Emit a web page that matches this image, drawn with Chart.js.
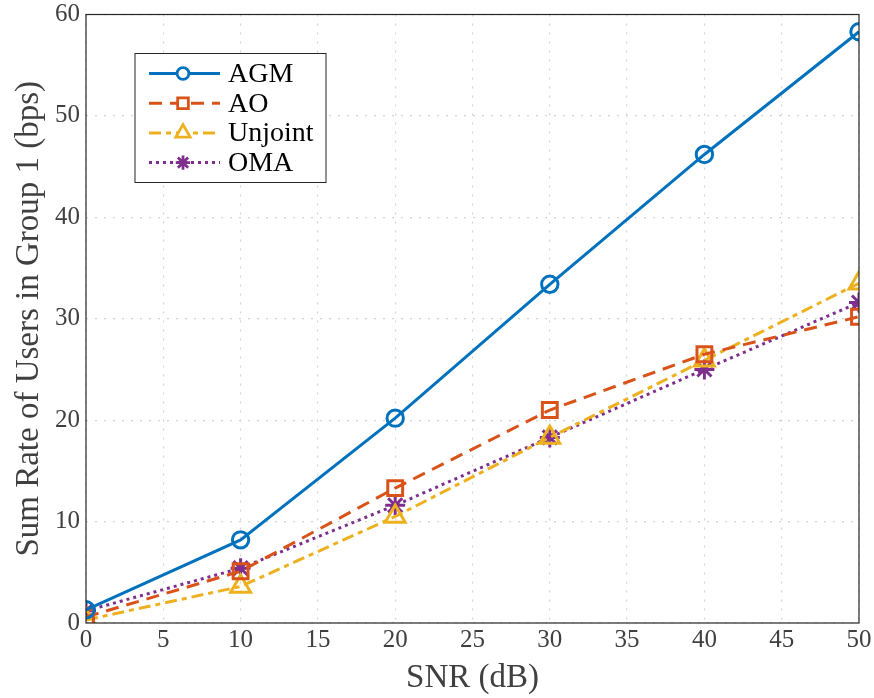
<!DOCTYPE html>
<html><head><meta charset="utf-8">
<script src="https://cdn.jsdelivr.net/npm/chart.js@4.4.1/dist/chart.umd.min.js"></script>
<style>html,body{margin:0;padding:0;background:#fff}#wrap{width:874px;height:698px}</style>
</head><body><div id="wrap"><canvas id="c" width="874" height="698"></canvas></div>
<script>
const snr = [0, 10, 20, 30, 40, 50];
const agm = [1.3, 8.2, 20.2, 33.4, 46.2, 58.3];
const ao = [0.6, 5.1, 13.3, 21.0, 26.5, 30.2];
const unjoint = [0.3, 3.6, 10.5, 18.3, 25.9, 33.5];
const oma = [1.2, 5.4, 11.6, 18.3, 25.0, 31.6];
const seriesNames = ['AGM', 'AO', 'Unjoint', 'OMA'];
const xTitle = 'SNR (dB)';
const yTitle = 'Sum Rate of Users in Group 1 (bps)';

const FONT = "'Liberation Serif', 'Times New Roman', serif";
const AX = '#262626';
const TXT = '#404040';

function ds(label, vals, color, dash, style, r) {
  return {
    label, data: snr.map((x, i) => ({x, y: vals[i]})),
    borderColor: color, backgroundColor: style === 'star' ? color : 'rgba(255,255,255,0)',
    borderWidth: 3, borderDash: dash, pointStyle: style, pointRadius: r,
    pointBorderWidth: 3, pointBorderColor: color, pointBackgroundColor: style === 'star' ? color : 'rgba(255,255,255,0)',
    tension: 0, fill: false
  };
}

const boxPlugin = {
  id: 'box',
  afterDraw(chart) {
    const {ctx, chartArea: a} = chart;
    ctx.save();
    ctx.strokeStyle = AX; ctx.lineWidth = 1.2;
    ctx.strokeRect(a.left, a.top, a.right - a.left, a.bottom - a.top);
    // legend
    const lx = a.left + 49, ly = a.top + 39, lw = 191, lh = 129;
    ctx.fillStyle = '#fff'; ctx.fillRect(lx, ly, lw, lh);
    ctx.strokeStyle = AX; ctx.lineWidth = 1; ctx.strokeRect(lx, ly, lw, lh);
    ctx.font = '28px ' + FONT; ctx.textBaseline = 'middle'; ctx.textAlign = 'left';
    chart.data.datasets.forEach((d, i) => {
      const y = ly + 20 + i * 29.7;
      ctx.save();
      ctx.strokeStyle = d.borderColor; ctx.lineWidth = 3; ctx.setLineDash(d.borderDash || []);
      ctx.beginPath(); ctx.moveTo(lx + 14, y); ctx.lineTo(lx + 85, y); ctx.stroke();
      ctx.restore();
      ctx.save();
      ctx.strokeStyle = d.borderColor; ctx.fillStyle = d.pointStyle === 'star' ? d.borderColor : '#fff'; ctx.lineWidth = 2.8;
      Chart.helpers.drawPoint(ctx, {pointStyle: d.pointStyle, radius: d.pointRadius * 0.72, borderWidth: 2.8}, lx + 48, y);
      ctx.restore();
      ctx.fillStyle = '#000';
      ctx.fillText(d.label, lx + 93, y + 1);
    });
    ctx.restore();
  }
};

new Chart(document.getElementById('c'), {
  type: 'line',
  data: { datasets: [
    ds(seriesNames[0], agm, '#0072BD', [], 'circle', 8.2),
    ds(seriesNames[1], ao, '#D95319', [13, 8], 'rect', 10.5),
    ds(seriesNames[2], unjoint, '#EDB120', [12, 5, 5, 5], 'triangle', 11.5),
    ds(seriesNames[3], oma, '#7E2F8E', [3, 4], 'star', 10)
  ]},
  options: {
    responsive: false, animation: false, devicePixelRatio: 1,
    layout: { padding: { top: 13, right: 15, left: 4, bottom: 0 } },
    plugins: { legend: { display: false }, tooltip: { enabled: false } },
    scales: {
      x: {
        type: 'linear', min: 0, max: 50,
        afterFit: s => { s.height = 75; s.paddingRight = 0; s.paddingLeft = 0; },
        ticks: { stepSize: 5, color: TXT, font: { family: FONT, size: 25 }, padding: 2, maxRotation: 0 },
        grid: { color: '#d4d4d4', lineWidth: 1.2, drawTicks: false },
        border: { display: false, dash: [2, 7] },
        title: { display: true, text: xTitle, color: TXT, font: { family: FONT, size: 33 }, padding: { top: 0, bottom: 0 } }
      },
      y: {
        type: 'linear', min: 0, max: 60,
        afterFit: s => { s.width = 82; s.paddingTop = 0; s.paddingBottom = 0; },
        ticks: { stepSize: 10, color: TXT, font: { family: FONT, size: 25 }, padding: 6 },
        grid: { color: '#d4d4d4', lineWidth: 1.2, drawTicks: false },
        border: { display: false, dash: [2, 7] },
        title: { display: true, text: yTitle, color: TXT, font: { family: FONT, size: 33 }, padding: { top: 6, bottom: 4 } }
      }
    }
  },
  plugins: [boxPlugin]
});
</script></body></html>
